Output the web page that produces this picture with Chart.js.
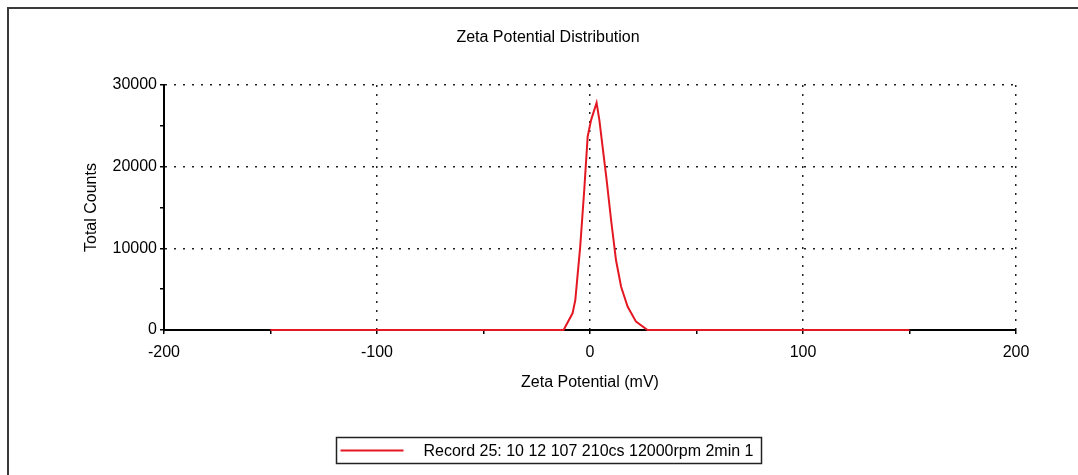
<!DOCTYPE html>
<html>
<head>
<meta charset="utf-8">
<title>Zeta Potential Distribution</title>
<script src="https://cdn.jsdelivr.net/npm/chart.js@4"></script>
<style>
  html, body { margin: 0; padding: 0; background: #fff; overflow: hidden; }
  #frame {
    position: absolute; left: 7px; top: 7px; width: 1200px; height: 600px;
    border-left: 2px solid #3a3a3a; border-top: 2px solid #3a3a3a;
  }
  #zeta { position: absolute; left: 0; top: 0; }
</style>
</head>
<body>
<div id="frame"></div>
<canvas id="zeta" width="1078" height="475"></canvas>
<script>
// values
const zetaMv = [-150, -12.4, -8.2, -6.9, -4.6, -2.7, -1.1, 0.5, 3.1, 4.4, 5.9, 7.8, 9.9, 12.2, 14.6, 17.7, 21.6, 27, 150];
const totalCounts = [0, 0, 2040, 3670, 10200, 17140, 23670, 25700, 27830, 25700, 22450, 18370, 13470, 8570, 5300, 2850, 1020, 0, 0];
const recordLabel = "Record 25: 10 12 107 210cs 12000rpm 2min 1";
const xMajorTicks = [-200, -100, 0, 100, 200];
const yMajorTicks = [0, 10000, 20000, 30000];

const FONT = '"Liberation Sans", Arial, sans-serif';
Chart.defaults.font.family = FONT;
Chart.defaults.font.size = 16;
Chart.defaults.color = "#000";

const lineColor = "rgb(228, 24, 34)";

// boxed legend like the original software draws it
const legendBox = {
  id: "legendBox",
  afterDraw(chart) {
    const ctx = chart.ctx;
    const ds = chart.data.datasets[0];
    ctx.save();
    ctx.font = "16px " + FONT;
    const tw = ctx.measureText(ds.label).width;
    const w = Math.round(4 + 63 + 20 + tw + 8);
    const cx = (chart.titleBlock.left + chart.titleBlock.right) / 2;
    const left = Math.round(cx - w / 2) + 0.5;
    const top = chart.height - 38 + 0.5;
    const h = 26;
    ctx.strokeStyle = "#222";
    ctx.lineWidth = 1.5;
    ctx.strokeRect(left, top, w, h);
    ctx.strokeStyle = ds.borderColor;
    ctx.lineWidth = 2;
    ctx.beginPath();
    ctx.moveTo(left + 4, top + h / 2);
    ctx.lineTo(left + 67, top + h / 2);
    ctx.stroke();
    ctx.fillStyle = "#000";
    ctx.textBaseline = "middle";
    ctx.fillText(ds.label, left + 87, top + h / 2 + 1);
    ctx.restore();
  }
};

function gridColor(majors, skip) {
  return (c) => {
    const v = c.tick && c.tick.value;
    return majors.includes(v) && v !== skip ? "#222" : "rgba(0,0,0,0)";
  };
}

function main() {
  const points = zetaMv.map((x, i) => ({ x, y: totalCounts[i] }));

  new Chart(document.getElementById("zeta"), {
    type: "line",
    data: {
      datasets: [{
        label: recordLabel,
        data: points,
        borderColor: lineColor,
        borderWidth: 2,
        pointRadius: 0,
        tension: 0,
        fill: false,
        clip: false
      }]
    },
    options: {
      responsive: false,
      animation: false,
      layout: { padding: { left: 80, right: 62, top: 0, bottom: 75 } },
      plugins: {
        legend: { display: false },
        tooltip: { enabled: false },
        title: {
          display: true,
          text: "Zeta Potential Distribution",
          font: { size: 16, weight: "normal" },
          color: "#000",
          padding: { top: 28, bottom: 37.8 }
        }
      },
      scales: {
        x: {
          type: "linear",
          min: -200,
          max: 200,
          afterFit: (s) => { s.height = 70; },
          ticks: {
            stepSize: 50,
            autoSkip: false,
            maxRotation: 0,
            padding: 9,
            callback: (v) => (xMajorTicks.includes(v) ? String(v) : "")
          },
          grid: {
            color: gridColor(xMajorTicks, -200),
            lineWidth: 1.5,
            tickColor: "#000",
            tickLength: 4,
            tickWidth: 1.5
          },
          border: { color: "#000", width: 2, dash: [2, 7] },
          title: {
            display: true,
            text: "Zeta Potential (mV)",
            color: "#000",
            padding: { top: 0, bottom: 7.4 }
          }
        },
        y: {
          min: 0,
          max: 30000,
          afterFit: (s) => { s.width = 84; },
          ticks: {
            stepSize: 5000,
            autoSkip: false,
            padding: 3,
            callback: (v) => (yMajorTicks.includes(v) ? String(v) : "")
          },
          grid: {
            color: gridColor(yMajorTicks, 0),
            lineWidth: 1.5,
            tickColor: "#000",
            tickLength: 4,
            tickWidth: 1.5
          },
          border: { color: "#000", width: 2, dash: [2, 7] },
          title: {
            display: true,
            text: "Total Counts",
            color: "#000",
            padding: { top: 2.4, bottom: 0 }
          }
        }
      }
    },
    plugins: [legendBox]
  });
}

document.addEventListener("DOMContentLoaded", main);
</script>
</body>
</html>
